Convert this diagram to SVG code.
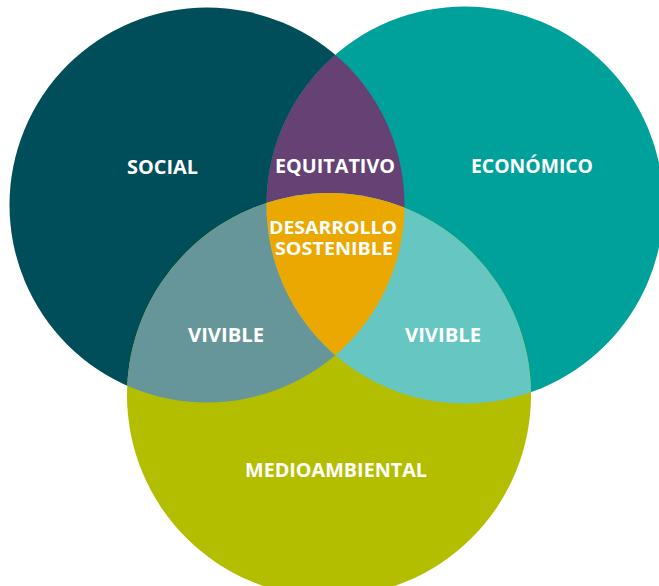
<svg xmlns="http://www.w3.org/2000/svg" width="659" height="586" viewBox="0 0 659 586">
<style>
.lbl{font-family:"Open Sans","Noto Sans","Liberation Sans",sans-serif;font-weight:700;font-size:20px;fill:#ffffff;text-anchor:middle}
.sm{font-size:18.5px}
</style>
<defs>
<clipPath id="cS"><circle cx="207" cy="205" r="197.5"/></clipPath>
<clipPath id="cE"><circle cx="465" cy="205" r="198.5"/></clipPath>
<clipPath id="cB"><circle cx="329" cy="395" r="202"/></clipPath>
</defs>
<rect width="659" height="586" fill="#ffffff"/>
<g id="social"><circle cx="207" cy="205" r="197.5" fill="#004e59"/></g>
<g id="economico"><circle cx="465" cy="205" r="198.5" fill="#00a19a"/></g>
<g id="medioambiental"><circle cx="329" cy="395" r="202" fill="#b4be00"/></g>
<g id="equitativo"><circle cx="465" cy="205" r="198.5" fill="#654174" clip-path="url(#cS)"/></g>
<g id="vivible-izq"><circle cx="329" cy="395" r="202" fill="#66969a" clip-path="url(#cS)"/></g>
<g id="vivible-der"><circle cx="329" cy="395" r="202" fill="#66c6c2" clip-path="url(#cE)"/></g>
<g id="desarrollo"><g clip-path="url(#cS)"><circle cx="465" cy="205" r="198.5" fill="#eaa800" clip-path="url(#cB)"/></g></g>
<g id="connectors"></g>
<g id="labels">
<text class="lbl" x="162.5" y="174" textLength="71" lengthAdjust="spacingAndGlyphs">SOCIAL</text>
<text class="lbl" x="335" y="173" textLength="120" lengthAdjust="spacingAndGlyphs">EQUITATIVO</text>
<text class="lbl" x="532" y="173" textLength="122" lengthAdjust="spacingAndGlyphs">ECONÓMICO</text>
<text class="lbl sm" x="333" y="233.5" textLength="128" lengthAdjust="spacingAndGlyphs">DESARROLLO</text>
<text class="lbl sm" x="334" y="255" textLength="118" lengthAdjust="spacingAndGlyphs">SOSTENIBLE</text>
<text class="lbl" x="226" y="342" textLength="76" lengthAdjust="spacingAndGlyphs">VIVIBLE</text>
<text class="lbl" x="443" y="342" textLength="76" lengthAdjust="spacingAndGlyphs">VIVIBLE</text>
<text class="lbl" x="336" y="477" textLength="182" lengthAdjust="spacingAndGlyphs">MEDIOAMBIENTAL</text>
</g>
</svg>
